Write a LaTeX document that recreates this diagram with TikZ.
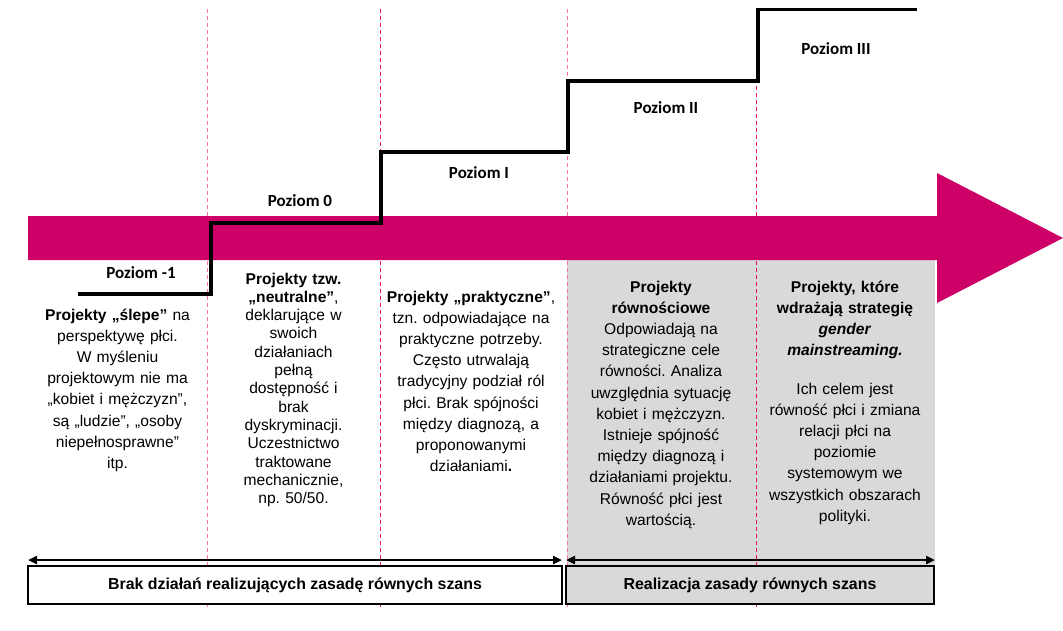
\documentclass[tikz,border=0pt]{standalone}
\usepackage{fontspec}
\setmainfont{Liberation Sans}
\newfontfamily\calfont{Carlito}
\usetikzlibrary{arrows.meta}
\definecolor{arrowpink}{RGB}{204,0,102}
\definecolor{lightdash}{RGB}{255,115,155}
\definecolor{darkdash}{RGB}{228,20,92}
\definecolor{grayfill}{RGB}{217,217,217}
\frenchspacing
\begin{document}
\begin{tikzpicture}[x=1pt,y=-1pt,
  levellabel/.style={font={\calfont\bfseries\fontsize{17}{20}\selectfont}, inner sep=0pt, anchor=center},
  coltext/.style={font={\frenchspacing\fontsize{15.6}{21.2}\selectfont}, align=center, text width=185pt, inner sep=0pt, anchor=base},
  sepline/.style={line width=1pt, dash pattern=on 4pt off 3pt},
  stairline/.style={line width=3.6pt, line join=miter},
  bottombox/.style={draw=black, line width=1.4pt, minimum height=38pt, inner sep=0pt, font={\bfseries\fontsize{15.9}{18}\selectfont}},
  spanarrow/.style={line width=2.4pt, {Triangle[length=9pt,width=8pt]}-{Triangle[length=9pt,width=8pt]}}
]
\useasboundingbox (0,0) rectangle (1063,630);
% gray background for the equality part
\fill[grayfill] (567,260) rectangle (935,566);
% column separators
\draw[sepline, lightdash] (207.5,9) -- (207.5,607);
\draw[sepline, darkdash] (380,9) -- (380,607);
\draw[sepline, lightdash] (567,9) -- (567,607);
\draw[sepline, darkdash] (756,9) -- (756,607);
% big pink arrow
\fill[arrowpink] (28,216) -- (937,216) -- (937,173) -- (1063,238) -- (937,303) -- (937,260) -- (28,260) -- cycle;
% staircase
\coordinate (s0) at (78,294);
\coordinate (s1) at (211,294);
\coordinate (s2) at (211,223);
\coordinate (s3) at (381,223);
\coordinate (s4) at (381,152);
\coordinate (s5) at (568,152);
\coordinate (s6) at (568,81);
\coordinate (s7) at (758,81);
\coordinate (s8) at (758,9.5);
\coordinate (s9) at (917,9.5);
\draw[stairline] (s0) -- (s1) -- (s2) -- (s3) -- (s4) -- (s5) -- (s6) -- (s7) -- (s8) -- (s9);
% level labels
\node[levellabel] (p-1) at (141,273) {Poziom -1};
\node[levellabel] (p0) at (300,201) {Poziom 0};
\node[levellabel] (p1) at (479,172.7) {Poziom I};
\node[levellabel] (p2) at (666,107.7) {Poziom II};
\node[levellabel] (p3) at (836,49) {Poziom III};
% column texts
\node[coltext] (c1) at (117.5,320) {\textbf{Projekty „ślepe”} na\\perspektywę płci.\\W myśleniu\\projektowym nie ma\\„kobiet i mężczyzn”,\\są „ludzie”, „osoby\\niepełnosprawne”\\itp.};
\node[coltext, font={\frenchspacing\fontsize{15.6}{18.3}\selectfont}] (c2) at (293.5,284) {\textbf{Projekty tzw.}\\\textbf{„neutralne”},\\deklarujące w\\swoich\\działaniach\\pełną\\dostępność i\\brak\\dyskryminacji.\\Uczestnictwo\\traktowane\\mechanicznie,\\np. 50/50.};
\node[coltext] (c3) at (471,302) {\textbf{Projekty „praktyczne”},\\tzn. odpowiadające na\\praktyczne potrzeby.\\Często utrwalają\\tradycyjny podział ról\\płci. Brak spójności\\między diagnozą, a\\proponowanymi\\działaniami\textbf{.}};
\node[coltext] (c4) at (661,292) {\textbf{Projekty}\\\textbf{równościowe}\\Odpowiadają na\\strategiczne cele\\równości. Analiza\\uwzględnia sytuację\\kobiet i mężczyzn.\\Istnieje spójność\\między diagnozą i\\działaniami projektu.\\Równość płci jest\\wartością.};
\node[coltext] (c5a) at (845,292) {\textbf{Projekty, które}\\\textbf{wdrażają strategię}\\\textbf{\itshape gender}\\\textbf{\itshape mainstreaming.}};
\node[coltext] (c5b) at (845,394) {Ich celem jest\\równość płci i zmiana\\relacji płci na\\poziomie\\systemowym we\\wszystkich obszarach\\polityki.};
% bottom boxes
\node[bottombox, fill=white, minimum width=534pt] (b1) at (295,585) {Brak działań realizujących zasadę równych szans};
\node[bottombox, fill=grayfill, minimum width=368pt] (b2) at (750,585) {Realizacja zasady równych szans};
% span arrows
\coordinate (a1l) at (28,560);
\coordinate (a1r) at (562,560);
\coordinate (a2l) at (566,560);
\coordinate (a2r) at (935,560);
\draw[spanarrow] (a1l) -- (a1r);
\draw[spanarrow] (a2l) -- (a2r);
\end{tikzpicture}
\end{document}
